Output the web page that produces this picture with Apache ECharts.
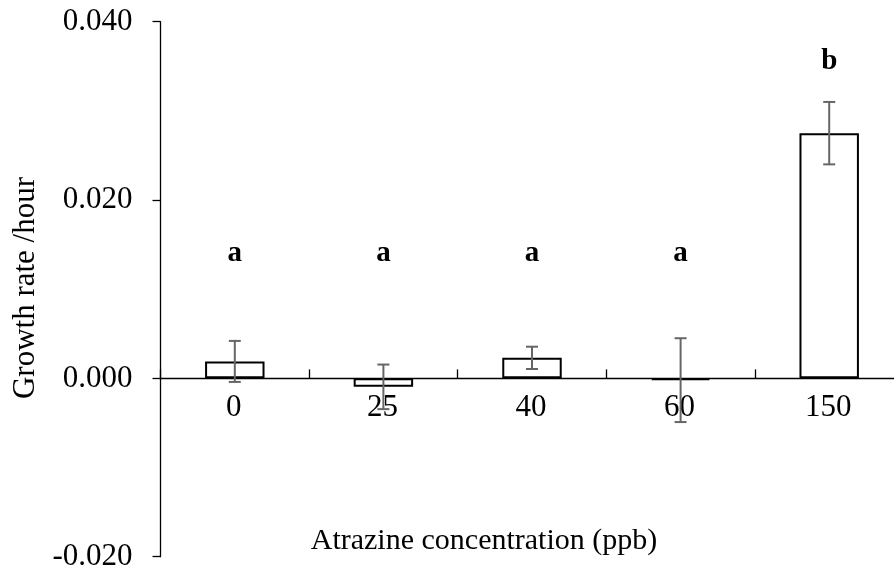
<!DOCTYPE html>
<html>
<head>
<meta charset="utf-8">
<script src="https://cdn.jsdelivr.net/npm/echarts@6/dist/echarts.min.js"></script>
<style>
  html, body { margin: 0; padding: 0; background: #fff; }
  #chart { width: 894px; height: 573px; }
</style>
</head>
<body>
<div id="chart"></div>
<script>
// Atrazine concentrations (ppb)
const categories = ['0', '25', '40', '60', '150'];
// Mean growth rate per hour
const growthRate = [0.0019, -0.00095, 0.0023, -0.0002, 0.0275];
// Error (± half-range) for each mean
const errorSize = [0.0023, 0.0025, 0.00125, 0.0047, 0.0035];
// Significance groups and the height at which each letter sits
const sigLetters = ['a', 'a', 'a', 'a', 'b'];
const letterY = [0.0140, 0.0140, 0.0140, 0.0140, 0.0355];
// Y axis ticks
const yMin = -0.020, yMax = 0.040, yStep = 0.020;

const FONT = '"Liberation Serif", "Times New Roman", serif';

const chart = echarts.init(document.getElementById('chart'), null, { renderer: 'canvas' });

const errData = categories.map((c, i) => [i, growthRate[i] - errorSize[i], growthRate[i] + errorSize[i]]);
const letterData = categories.map((c, i) => [i, letterY[i]]);
// Category names sit just under the zero line
const catLabelData = categories.map((c, i) => [i, 0]);

chart.setOption({
  animation: false,
  backgroundColor: '#ffffff',
  grid: { left: 160.5, top: 21.7, width: 743, height: 535, containLabel: false, outerBoundsMode: 'none' },
  xAxis: {
    type: 'category',
    data: categories,
    axisLine: { onZero: true, lineStyle: { color: '#000', width: 1.3 } },
    axisTick: { show: true, inside: true, length: 9, interval: 0, lineStyle: { color: '#000', width: 1.3 } },
    axisLabel: { show: false },
    splitLine: { show: false }
  },
  yAxis: {
    type: 'value',
    min: yMin, max: yMax, interval: yStep,
    axisLine: { show: true, lineStyle: { color: '#000', width: 1.3 } },
    axisTick: { show: true, inside: false, length: 8, lineStyle: { color: '#000', width: 1.3 } },
    axisLabel: { color: '#000', fontFamily: FONT, fontSize: 31, margin: 28, formatter: v => v.toFixed(3) },
    splitLine: { show: false }
  },
  graphic: [
    {
      type: 'text', x: 26, y: 288, rotation: Math.PI / 2,
      style: { text: 'Growth rate /hour', fill: '#000', font: '31px ' + FONT, align: 'center', verticalAlign: 'middle' }
    },
    {
      type: 'text', x: 484, y: 541,
      style: { text: 'Atrazine concentration (ppb)', fill: '#000', font: '30px ' + FONT, align: 'center', verticalAlign: 'middle' }
    }
  ],
  series: [
    {
      type: 'bar',
      data: growthRate,
      barWidth: '40%',
      itemStyle: { color: '#fff', borderColor: '#000', borderWidth: 2 },
      z: 2
    },
    {
      type: 'custom',
      data: errData,
      z: 3,
      renderItem: function (params, api) {
        const i = api.value(0);
        const lo = api.coord([i, api.value(1)]);
        const hi = api.coord([i, api.value(2)]);
        const x = lo[0], cap = 6;
        const st = { stroke: '#666', lineWidth: 2 };
        return {
          type: 'group',
          children: [
            { type: 'line', shape: { x1: x, y1: lo[1], x2: x, y2: hi[1] }, style: st },
            { type: 'line', shape: { x1: x - cap, y1: lo[1], x2: x + cap, y2: lo[1] }, style: st },
            { type: 'line', shape: { x1: x - cap, y1: hi[1], x2: x + cap, y2: hi[1] }, style: st }
          ]
        };
      }
    },
    {
      type: 'scatter',
      data: catLabelData,
      symbolSize: 0,
      silent: true,
      z: 1,
      itemStyle: { opacity: 1 },
      label: {
        show: true, position: 'inside', offset: [-1, 29], opacity: 1,
        formatter: p => categories[p.dataIndex],
        color: '#000', fontFamily: FONT, fontSize: 31
      }
    },
    {
      type: 'scatter',
      data: letterData,
      symbolSize: 0,
      silent: true,
      itemStyle: { opacity: 1 },
      label: {
        show: true, position: 'inside', opacity: 1,
        formatter: p => sigLetters[p.dataIndex],
        color: '#000', fontFamily: FONT, fontSize: 29, fontWeight: 'bold'
      }
    }
  ]
});
</script>
</body>
</html>
